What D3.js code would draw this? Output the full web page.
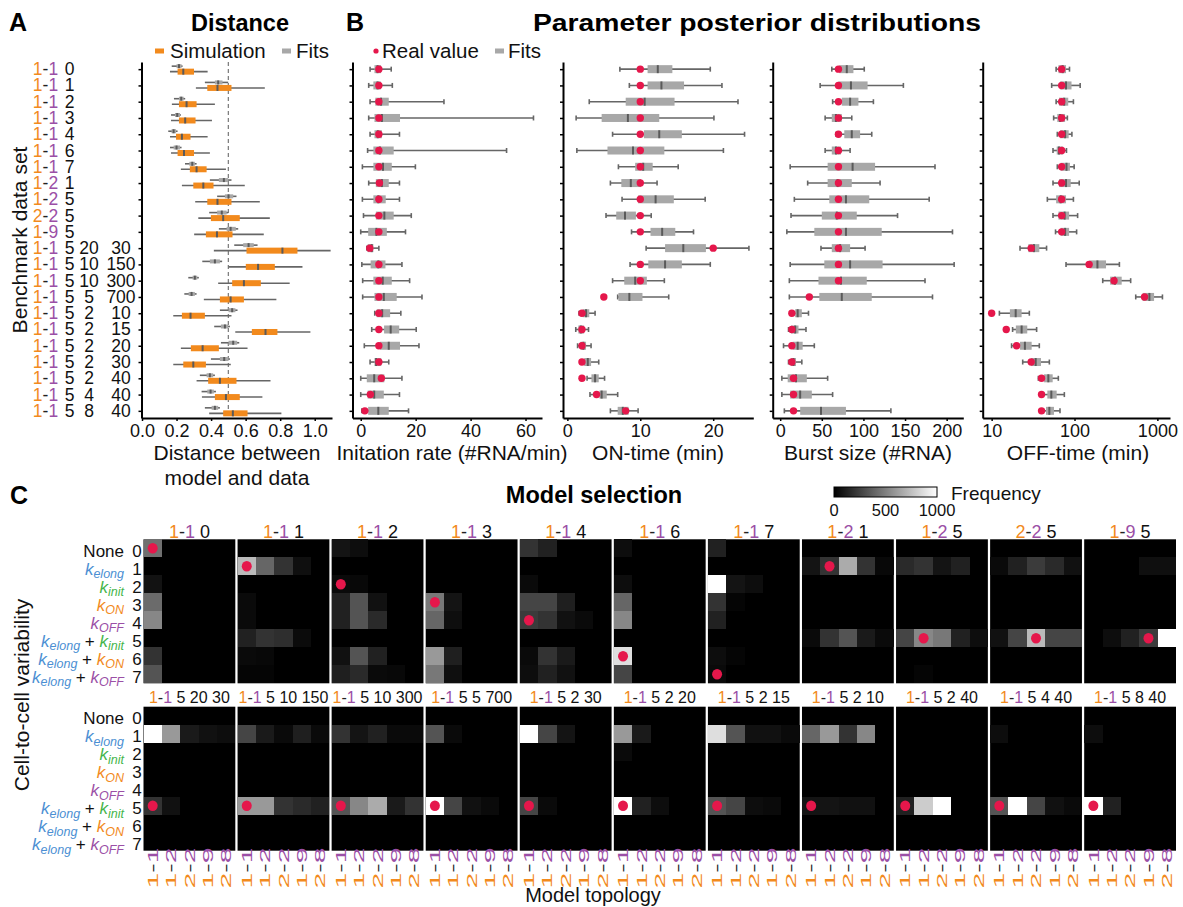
<!DOCTYPE html>
<html>
<head>
<meta charset="utf-8">
<script src="https://cdn.jsdelivr.net/npm/d3@7"></script>
<style>
  body { margin: 0; background: #fff; }
  svg { font-family: "Liberation Sans", Arial, Helvetica, sans-serif; }
  text { white-space: pre; }
</style>
</head>
<body>
<svg id="fig" width="1183" height="907"></svg>
<script>
// ---------------- data ----------------
const benchmarkSets = ["1-1 0","1-1 1","1-1 2","1-1 3","1-1 4","1-1 6","1-1 7","1-2 1","1-2 5","2-2 5","1-9 5",
  "1-1 5 20 30","1-1 5 10 150","1-1 5 10 300","1-1 5 5 700","1-1 5 2 10","1-1 5 2 15","1-1 5 2 20",
  "1-1 5 2 30","1-1 5 2 40","1-1 5 4 40","1-1 5 8 40"];

// box statistics: [lower whisker, Q1, median, Q3, upper whisker]
const simDistance = [
  [0.162,0.206,0.239,0.301,0.380],[0.312,0.378,0.437,0.518,0.711],[0.173,0.214,0.258,0.316,0.422],
  [0.168,0.214,0.250,0.310,0.405],[0.162,0.197,0.231,0.281,0.380],[0.168,0.206,0.243,0.301,0.393],
  [0.225,0.277,0.316,0.374,0.486],[0.231,0.297,0.355,0.414,0.595],[0.308,0.378,0.437,0.518,0.682],
  [0.326,0.399,0.470,0.566,0.740],[0.302,0.370,0.434,0.524,0.705],[0.416,0.605,0.813,0.900,1.092],
  [0.501,0.601,0.672,0.769,0.929],[0.441,0.522,0.590,0.688,0.855],[0.358,0.451,0.513,0.590,0.778],
  [0.181,0.231,0.281,0.364,0.518],[0.540,0.636,0.715,0.784,0.975],[0.225,0.283,0.351,0.445,0.611],
  [0.181,0.239,0.297,0.370,0.514],[0.316,0.383,0.451,0.547,0.744],[0.347,0.422,0.486,0.566,0.697],
  [0.389,0.470,0.526,0.611,0.807]];
const fitDistance = [
  [0.172,0.200,0.214,0.229,0.235],[0.364,0.422,0.441,0.466,0.499],[0.185,0.214,0.227,0.241,0.250],
  [0.168,0.191,0.204,0.220,0.225],[0.152,0.171,0.183,0.197,0.206],[0.162,0.183,0.200,0.220,0.229],
  [0.249,0.274,0.291,0.306,0.316],[0.393,0.445,0.474,0.499,0.518],[0.435,0.480,0.501,0.528,0.547],
  [0.389,0.435,0.462,0.490,0.499],[0.445,0.490,0.513,0.543,0.557],[0.534,0.586,0.617,0.647,0.669],
  [0.349,0.393,0.422,0.451,0.464],[0.268,0.293,0.306,0.320,0.329],[0.245,0.270,0.287,0.306,0.316],
  [0.451,0.501,0.522,0.541,0.553],[0.418,0.457,0.480,0.499,0.509],[0.457,0.501,0.528,0.551,0.563],
  [0.399,0.451,0.476,0.501,0.509],[0.335,0.374,0.393,0.412,0.422],[0.345,0.378,0.397,0.416,0.428],
  [0.364,0.403,0.422,0.441,0.451]];

const initRateFits = [
  [3.4,5.0,6.1,7.4,11.1],[2.9,4.6,6.1,7.3,11.5],[3.4,5.3,7.4,10.2,30.3],[2.9,5.0,7.7,14.3,62.9],
  [3.4,5.0,6.2,7.7,14.1],[2.5,4.6,7.0,12.0,53.1],[0.6,4.6,8.1,11.3,19.9],[2.9,5.5,7.7,10.2,14.1],
  [0.6,4.6,6.4,9.1,14.1],[1.0,5.5,8.6,12.0,18.4],[0.0,2.7,5.7,9.5,16.3],[2.2,2.5,4.0,4.6,6.6],
  [0.4,3.6,6.4,9.0,15.0],[0.7,4.6,8.0,11.3,17.8],[0.7,5.0,8.4,13.1,22.3],[5.1,5.8,7.8,10.7,14.6],
  [4.0,8.5,10.9,14.0,20.2],[1.3,7.0,10.2,14.3,21.2],[3.4,5.0,5.6,7.5,10.2],[0.0,2.2,4.9,8.6,15.0],
  [0.0,2.5,4.9,8.4,14.1],[0.4,2.7,6.4,10.2,17.4]];
const initRateTrue = [6.6,6.6,6.6,6.6,6.6,6.6,6.6,6.8,6.6,6.6,6.6,3.3,6.6,6.6,6.6,6.6,6.6,6.6,6.6,7.5,3.5,1.5];

const onTimeFits = [
  [7.2,11.0,12.4,14.4,19.6],[8.5,11.0,12.9,16.0,21.2],[3.0,8.0,10.6,14.7,23.4],[1.2,4.7,8.3,12.6,20.1],
  [6.2,10.5,12.6,15.7,24.3],[1.3,5.5,9.0,13.3,21.4],[7.0,9.3,10.4,11.7,15.2],[5.9,7.4,8.7,10.1,12.3],
  [7.5,9.7,12.1,14.6,18.9],[5.3,6.7,7.9,9.4,11.5],[8.8,11.4,13.0,14.8,17.3],[10.8,13.4,15.9,19.0,24.9],
  [8.6,11.1,13.4,15.7,19.6],[6.2,7.8,9.3,10.9,13.3],[6.9,7.0,8.5,10.3,13.9],[1.6,2.1,2.56,3.0,3.8],
  [1.15,1.5,1.83,2.3,2.9],[1.4,1.8,2.2,2.56,3.25],[2.1,2.3,2.8,3.25,4.3],[2.7,3.3,3.8,4.3,5.1],
  [3.1,4.4,4.7,5.4,6.9],[5.9,6.9,7.6,8.4,9.7]];
const onTimeTrue = [10,10,10,10,10,10,10,10,10,10,10,20,10,10,5,2,2,2,2,2,4,8];

const burstSizeFits = [
  [62,71,80,88,101],[48,70,85,105,148],[63,74,84,94,112],[54,62,67,74,86],[67,77,86,96,110],
  [54,62,67,73,84],[12,57,87,114,186],[33,57,69,86,120],[17,59,79,107,179],[13,50,68,92,141],
  [8,41,79,122,207],[49,62,72,84,102],[12,53,84,123,209],[11,46,73,104,174],[11,47,74,110,183],
  [13,18,21,26,34],[10,13,18,22,31],[4,15,21,27,41],[10,13,16,19,26],[2,9,19,32,57],
  [2,12,24,38,63],[5,24,49,79,133]];
const burstSizeTrue = [70,70,70,70,70,70,70,70,70,70,70,70,70,70,35,14,14,14,14,16,16,16];

const offTimeFits = [
  [60,64,72,79,87],[53,67,79,92,117],[60,65,75,84,97],[56,62,67,77,82],[62,67,77,85,93],
  [55,61,65,73,80],[62,68,80,88,99],[55,65,79,90,114],[47,60,68,79,97],[55,64,76,86,109],
  [59,68,77,86,106],[22,27.7,32.4,37.6,46],[79,151,189,240,348],[219,269,308,371,476],
  [548,665,801,912,1151],[12.4,16.6,19.5,23,28.5],[17.9,19.6,23,26.9,34.9],[17.4,22,25.2,30.4,37.6],
  [23.7,29.9,34,39.4,49.7],[36.6,42.9,48.3,54.5,63.8],[39,47,52.5,60.9,75.4],[42.1,45.3,49.7,56.5,66.8]];
const offTimeTrue = [70,70,70,70,70,70,70,70,70,70,70,30,150,300,700,10,15,20,30,40,40,40];

// model selection
const topologies = ["1-1","1-2","2-2","1-9","2-8"];
const variabilityTerms = [[],["elong"],["init"],["ON"],["OFF"],["elong","init"],["elong","ON"],["elong","OFF"]];

const selectionSetsTop = ["1-1 0","1-1 1","1-1 2","1-1 3","1-1 4","1-1 6","1-1 7","1-2 1","1-2 5","2-2 5","1-9 5"];
const trueVariabilityTop = [0,1,2,3,4,6,7,1,5,5,5];
const trueTopologyTop = ["1-1","1-1","1-1","1-1","1-1","1-1","1-1","1-2","1-2","2-2","1-9"];
const selectionSetsBottom = ["1-1 5 20 30","1-1 5 10 150","1-1 5 10 300","1-1 5 5 700","1-1 5 2 30",
  "1-1 5 2 20","1-1 5 2 15","1-1 5 2 10","1-1 5 2 40","1-1 5 4 40","1-1 5 8 40"];
const trueVariabilityBottom = [5,5,5,5,5,5,5,5,5,5,5];
const trueTopologyBottom = ["1-1","1-1","1-1","1-1","1-1","1-1","1-1","1-1","1-1","1-1","1-1"];

// selection frequency per panel: 8 variability rows x 5 topology columns
const freqTop = [
  [[440,0,0,0,0],[0,0,0,0,0],[70,0,0,0,0],[420,0,0,0,0],[530,0,0,0,0],[0,0,0,0,0],[200,0,0,0,0],[330,0,0,0,0]],
  [[0,0,0,0,0],[730,400,200,60,0],[0,0,0,0,0],[40,0,0,0,0],[40,0,0,0,0],[130,200,180,45,0],[40,30,0,0,0],[20,20,0,0,0]],
  [[80,50,0,0,0],[0,0,0,0,0],[40,30,0,0,0],[130,330,65,0,0],[130,330,165,0,0],[0,0,0,0,0],[65,330,130,0,0],[120,165,40,30,0]],
  [[0,0,0,0,0],[0,0,0,0,0],[0,0,0,0,0],[470,80,0,0,0],[400,55,0,0,0],[0,0,0,0,0],[600,120,0,0,0],[470,60,0,0,0]],
  [[200,130,0,0,0],[0,0,0,0,0],[40,0,0,0,0],[270,270,120,0,0],[230,200,65,40,0],[0,0,0,0,0],[40,200,100,0,0],[50,130,65,0,0]],
  [[50,0,0,0,0],[0,0,0,0,0],[50,0,0,0,0],[400,0,0,0,0],[530,0,0,0,0],[0,0,0,0,0],[870,0,0,0,0],[270,0,0,0,0]],
  [[130,0,0,0,0],[0,0,0,0,0],[1000,80,50,0,0],[200,20,0,0,0],[130,0,0,0,0],[0,0,0,0,0],[50,20,0,0,0],[40,0,0,0,0]],
  [[0,0,0,0,0],[80,200,670,200,30],[0,0,0,0,0],[0,0,0,0,0],[0,0,0,0,0],[40,200,330,100,40],[0,0,0,0,0],[0,0,0,0,0]],
  [[0,0,0,0,0],[165,200,80,130,0],[0,0,0,0,0],[0,0,0,0,0],[0,0,0,0,0],[270,530,470,130,50],[0,0,0,0,0],[0,20,0,0,0]],
  [[0,0,0,0,0],[40,130,230,165,65],[0,0,0,0,0],[0,0,0,0,0],[0,0,0,0,0],[65,270,730,270,270],[0,0,0,0,0],[0,0,0,0,0]],
  [[0,0,0,0,0],[0,0,0,60,60],[0,0,0,0,0],[0,0,0,0,0],[0,0,0,0,0],[0,50,130,230,1000],[0,0,0,0,0],[0,0,0,0,0]]
];
const freqBottom = [
  [[0,0,0,0,0],[1000,600,100,65,50],[0,0,0,0,0],[0,0,0,0,0],[0,0,0,0,0],[200,65,0,0,0],[0,0,0,0,0],[0,0,0,0,0]],
  [[0,0,0,0,0],[270,100,40,120,40],[0,0,0,0,0],[0,0,0,0,0],[0,0,0,0,0],[600,600,200,165,130],[0,0,0,0,0],[0,0,0,0,0]],
  [[0,0,0,0,0],[200,80,130,40,40],[0,0,0,0,0],[0,0,0,0,0],[0,0,0,0,0],[330,530,670,100,200],[0,0,0,0,0],[0,0,0,0,0]],
  [[0,0,0,0,0],[330,40,0,0,0],[0,0,0,0,0],[0,0,0,0,0],[0,0,0,0,0],[1000,270,65,40,0],[0,0,0,0,0],[0,0,0,0,0]],
  [[0,0,0,0,0],[1000,270,80,0,0],[0,0,0,0,0],[0,0,0,0,0],[0,0,0,0,0],[270,40,0,0,0],[0,0,0,0,0],[0,0,0,0,0]],
  [[0,0,0,0,0],[600,100,0,0,0],[40,0,0,0,0],[0,0,0,0,0],[0,0,0,0,0],[1000,130,50,0,0],[0,0,0,0,0],[0,0,0,0,0]],
  [[0,0,0,0,0],[870,330,65,65,40],[0,0,0,0,0],[0,0,0,0,0],[0,0,0,0,0],[330,270,50,40,0],[0,0,0,0,0],[0,0,0,0,0]],
  [[0,0,0,0,0],[400,600,200,530,0],[0,0,0,0,0],[0,0,0,0,0],[0,0,0,0,0],[80,80,65,65,0],[0,0,0,0,0],[0,0,0,0,0]],
  [[0,0,0,0,0],[0,0,0,0,0],[0,0,0,0,0],[0,0,0,0,0],[0,0,0,0,0],[130,800,1000,0,0],[0,0,0,0,0],[0,0,0,0,0]],
  [[0,0,0,0,0],[50,0,0,0,0],[0,0,0,0,0],[0,0,0,0,0],[0,0,0,0,0],[330,1000,270,65,40],[0,0,0,0,0],[0,0,0,0,0]],
  [[0,0,0,0,0],[50,0,0,0,0],[0,0,0,0,0],[0,0,0,0,0],[0,0,0,0,0],[1000,130,0,0,0],[0,0,0,0,0],[0,0,0,0,0]]
];
const colorbarTicks = [0, 500, 1000];

// ---------------- styles ----------------
const ORANGE = "#f28a1d", PURPLE = "#9b4fa6", BLUE = "#4b8fd3", GREEN = "#45b54a";
const RED = "#e5174b", BOX_GRAY = "#a8a8a8", WHISKER = "#666666", MEDIAN = "#5a5a5a";
const termColor = { elong: BLUE, init: GREEN, ON: ORANGE, OFF: PURPLE };

const svg = d3.select("#fig");

function styleAxis(g, fontSize) {
  g.attr("font-family", null).attr("font-size", null);
  g.select(".domain").attr("stroke", "#000").attr("stroke-width", 2);
  g.selectAll(".tick line").attr("stroke", "#000").attr("stroke-width", 1.5);
  g.selectAll(".tick text").style("font-size", fontSize + "px").attr("fill", "#111");
}

// topology label "a-b" with coloured digits
function topoSpans(text, topo, rest) {
  const [a, b] = topo.split("-");
  text.append("tspan").attr("fill", ORANGE).text(a);
  text.append("tspan").attr("fill", "#222").text("-");
  text.append("tspan").attr("fill", PURPLE).text(b);
  if (rest) text.append("tspan").attr("fill", "#111").text(" " + rest);
}

// ---------------- titles ----------------
function bold(x, y, s, size, anchor, stretchTo) {
  const t = svg.append("text").attr("x", x).attr("y", y).attr("text-anchor", anchor || "start")
    .style("font-weight", "bold").style("font-size", size + "px").attr("fill", "#000").text(s);
  if (stretchTo) t.attr("textLength", stretchTo).attr("lengthAdjust", "spacingAndGlyphs");
}
bold(9, 31, "A", 25);
bold(240, 31, "Distance", 23.5, "middle");
bold(346, 31, "B", 25);
bold(757, 31, "Parameter posterior distributions", 23.5, "middle", 448);
bold(10, 504, "C", 25);
bold(594, 503, "Model selection", 23.5, "middle");

// ---------------- panel A ----------------
const rowY = d3.scalePoint().domain(d3.range(benchmarkSets.length)).range([62, 418]).padding(0.44);

const xDist = d3.scaleLinear().domain([0, 1.1]).range([142, 332]);

// row labels
const labelCols = [69.5, 89, 121];
benchmarkSets.forEach((s, i) => {
  const parts = s.split(" ");
  const t = svg.append("text").attr("x", 45.5).attr("y", rowY(i)).attr("text-anchor", "middle")
    .attr("dominant-baseline", "central").style("font-size", "17.5px");
  topoSpans(t, parts[0]);
  parts.slice(1).forEach((p, j) => {
    svg.append("text").attr("x", labelCols[j]).attr("y", rowY(i)).attr("text-anchor", "middle")
      .attr("dominant-baseline", "central").style("font-size", "17.5px").attr("fill", "#111").text(p);
  });
});

svg.append("text").attr("transform", `translate(27,${(rowY(0) + rowY(21)) / 2}) rotate(-90)`)
  .attr("text-anchor", "middle").style("font-size", "21px").attr("fill", "#111").text("Benchmark data set");

// reference line at 0.5
svg.append("line").attr("x1", xDist(0.5)).attr("x2", xDist(0.5)).attr("y1", 62).attr("y2", 418)
  .attr("stroke", "#808080").attr("stroke-width", 1.3).attr("stroke-dasharray", "4,3");

function drawBoxes(g, x, stats, offset, h, fill, caps) {
  const grp = g.append("g");
  stats.forEach((d, i) => {
    const y = rowY(i) + offset;
    grp.append("line").attr("x1", x(d[0])).attr("x2", x(d[4])).attr("y1", y).attr("y2", y)
      .attr("stroke", WHISKER).attr("stroke-width", 1.6);
    if (caps) {
      [d[0], d[4]].forEach(v => grp.append("line").attr("x1", x(v)).attr("x2", x(v))
        .attr("y1", y - caps / 2).attr("y2", y + caps / 2).attr("stroke", WHISKER).attr("stroke-width", 1.6));
    }
    grp.append("rect").attr("x", x(d[1])).attr("y", y - h / 2).attr("width", x(d[3]) - x(d[1]))
      .attr("height", h).attr("fill", fill);
    grp.append("line").attr("x1", x(d[2])).attr("x2", x(d[2])).attr("y1", y - h / 2).attr("y2", y + h / 2)
      .attr("stroke", MEDIAN).attr("stroke-width", 2);
  });
}

drawBoxes(svg, xDist, fitDistance, -3, 4, BOX_GRAY, 0);
drawBoxes(svg, xDist, simDistance, 2.5, 6, ORANGE, 0);

svg.append("g").attr("transform", "translate(141.5,0)")
  .call(d3.axisLeft(rowY).tickSize(3).tickSizeOuter(0).tickFormat(""))
  .call(g => styleAxis(g, 18));
svg.append("g").attr("transform", "translate(0,418)")
  .call(d3.axisBottom(xDist).tickValues([0, 0.2, 0.4, 0.6, 0.8, 1.0]).tickFormat(d3.format(".1f"))
    .tickSize(3).tickPadding(3).tickSizeOuter(0))
  .call(g => styleAxis(g, 18));

svg.append("text").attr("x", 237).attr("y", 460).attr("text-anchor", "middle").style("font-size", "21px")
  .attr("fill", "#111").text("Distance between");
svg.append("text").attr("x", 237).attr("y", 485).attr("text-anchor", "middle").style("font-size", "21px")
  .attr("fill", "#111").text("model and data");

// legend A
svg.append("rect").attr("x", 155).attr("y", 48.5).attr("width", 9).attr("height", 5).attr("fill", ORANGE);
svg.append("text").attr("x", 170).attr("y", 58).style("font-size", "20.5px").attr("fill", "#111").text("Simulation");
svg.append("rect").attr("x", 282).attr("y", 48.5).attr("width", 9).attr("height", 5).attr("fill", BOX_GRAY);
svg.append("text").attr("x", 296).attr("y", 58).style("font-size", "20.5px").attr("fill", "#111").text("Fits");

// ---------------- panel B ----------------
const paramPanels = [
  { fits: initRateFits, truth: initRateTrue, x: d3.scaleLinear().domain([-3, 66]).range([352.5, 542]),
    ticks: [0, 20, 40, 60], title: "Initation rate (#RNA/min)", tx: 452 },
  { fits: onTimeFits, truth: onTimeTrue, x: d3.scaleLinear().domain([-0.6, 25.5]).range([563, 753.3]),
    ticks: [0, 10, 20], title: "ON-time (min)", tx: 658 },
  { fits: burstSizeFits, truth: burstSizeTrue, x: d3.scaleLinear().domain([-9, 220]).range([772.7, 963.3]),
    ticks: [0, 50, 100, 150, 200], title: "Burst size (#RNA)", tx: 868 },
  { fits: offTimeFits, truth: offTimeTrue, x: d3.scaleLog().domain([7.8, 1420]).range([982.7, 1170]),
    ticks: [10, 100, 1000], title: "OFF-time (min)", tx: 1078 }
];

paramPanels.forEach(p => {
  drawBoxes(svg, p.x, p.fits, 0, 8, BOX_GRAY, 5);
  svg.append("g").selectAll("circle").data(p.truth).join("circle")
    .attr("cx", d => p.x(d)).attr("cy", (d, i) => rowY(i)).attr("r", 3.7).attr("fill", RED);
  const x0 = p.x.range()[0];
  svg.append("g").attr("transform", `translate(${x0},0)`)
    .call(d3.axisLeft(rowY).tickSize(3).tickSizeOuter(0).tickFormat(""))
    .call(g => styleAxis(g, 18));
  svg.append("g").attr("transform", "translate(0,418)")
    .call(d3.axisBottom(p.x).tickValues(p.ticks).tickFormat(d3.format("d")).tickSize(3).tickPadding(3).tickSizeOuter(0))
    .call(g => styleAxis(g, 18));
  svg.append("text").attr("x", p.tx).attr("y", 460).attr("text-anchor", "middle").style("font-size", "21px")
    .attr("fill", "#111").text(p.title);
});

// legend B
svg.append("circle").attr("cx", 376).attr("cy", 51).attr("r", 2.6).attr("fill", RED);
svg.append("text").attr("x", 382).attr("y", 58).style("font-size", "20.5px").attr("fill", "#111").text("Real value");
svg.append("rect").attr("x", 495).attr("y", 48.5).attr("width", 9).attr("height", 5).attr("fill", BOX_GRAY);
svg.append("text").attr("x", 508).attr("y", 58).style("font-size", "20.5px").attr("fill", "#111").text("Fits");

// ---------------- panel C ----------------
const panelX = d3.scaleBand().domain(d3.range(11)).range([143.5, 1176]).paddingInner(0.024);
const colX = d3.scaleBand().domain(topologies).range([0, panelX.bandwidth()]);
const heat = d3.scaleLinear().domain([0, 1000]).range(["#000000", "#ffffff"]).clamp(true);

function variabilityLabels(top) {
  const rowB = d3.scaleBand().domain(d3.range(8)).range([top, top + 144]);
  variabilityTerms.forEach((terms, r) => {
    const y = rowB(r) + rowB.bandwidth() / 2 + 8.5;
    const t = svg.append("text").attr("x", 124).attr("y", y).attr("text-anchor", "end").style("font-size", "17px");
    if (!terms.length) t.append("tspan").attr("fill", "#111").text("None");
    terms.forEach((term, k) => {
      if (k > 0) t.append("tspan").attr("fill", "#111").attr("dy", -3.5).text(" + ");
      t.append("tspan").attr("fill", termColor[term]).style("font-style", "italic").text("k");
      t.append("tspan").attr("fill", termColor[term]).style("font-style", "italic")
        .style("font-size", "12.5px").attr("dy", 3.5).text(term);
    });
    svg.append("text").attr("x", 137).attr("y", y).attr("text-anchor", "middle").style("font-size", "17px")
      .attr("fill", "#111").text(r);
  });
}

function heatRow(top, sets, freqs, trueVar, trueTopo, titleSize, titleY) {
  const rowB = d3.scaleBand().domain(d3.range(8)).range([0, 144]);
  sets.forEach((s, p) => {
    const g = svg.append("g").attr("transform", `translate(${panelX(p)},${top})`);
    g.append("rect").attr("width", panelX.bandwidth()).attr("height", 144).attr("fill", heat(0));
    const cells = [];
    freqs[p].forEach((row, r) => row.forEach((v, c) => cells.push({ r, c: topologies[c], v })));
    g.selectAll("rect.cell").data(cells.filter(d => d.v > 0)).join("rect").attr("class", "cell")
      .attr("x", d => colX(d.c)).attr("y", d => rowB(d.r))
      .attr("width", colX.bandwidth()).attr("height", rowB.bandwidth())
      .attr("shape-rendering", "crispEdges")
      .attr("fill", d => heat(d.v));
    g.append("ellipse").attr("cx", colX(trueTopo[p]) + colX.bandwidth() / 2)
      .attr("cy", rowB(trueVar[p]) + rowB.bandwidth() / 2).attr("rx", 5).attr("ry", 5.3).attr("fill", RED);
    const parts = s.split(" ");
    const t = svg.append("text").attr("x", panelX(p) + panelX.bandwidth() / 2).attr("y", titleY)
      .attr("text-anchor", "middle").style("font-size", titleSize + "px");
    topoSpans(t, parts[0], parts.slice(1).join(" "));
  });
}

heatRow(539.3, selectionSetsTop, freqTop, trueVariabilityTop, trueTopologyTop, 18, 538);
heatRow(706.7, selectionSetsBottom, freqBottom, trueVariabilityBottom, trueTopologyBottom, 16, 703);
variabilityLabels(539.3);
variabilityLabels(706.7);

// topology tick labels under the lower row
d3.range(11).forEach(p => {
  topologies.forEach(topo => {
    const cx = panelX(p) + colX(topo) + colX.bandwidth() / 2;
    const t = svg.append("text").attr("transform", `translate(${cx},888.5) rotate(-90) scale(1.95,1)`)
      .attr("dominant-baseline", "central").style("font-size", "14.5px");
    topoSpans(t, topo);
  });
});

svg.append("text").attr("x", 593).attr("y", 902).attr("text-anchor", "middle").style("font-size", "20px")
  .attr("fill", "#111").text("Model topology");
svg.append("text").attr("transform", "translate(29,695) rotate(-90)").attr("text-anchor", "middle")
  .style("font-size", "21px").attr("fill", "#111").text("Cell-to-cell variability");

// colour bar
const defs = svg.append("defs");
const grad = defs.append("linearGradient").attr("id", "freqGrad");
grad.selectAll("stop").data(colorbarTicks).join("stop")
  .attr("offset", d => d / 1000).attr("stop-color", d => heat(d));
const cbX = d3.scaleLinear().domain([0, 1000]).range([834, 937]);
svg.append("rect").attr("x", cbX(0)).attr("y", 487).attr("width", cbX(1000) - cbX(0)).attr("height", 10)
  .attr("fill", "url(#freqGrad)").attr("stroke", "#000").attr("stroke-width", 1);
svg.selectAll(".cbtick").data(colorbarTicks).join("text").attr("class", "cbtick")
  .attr("x", d => cbX(d)).attr("y", 516).attr("text-anchor", "middle").style("font-size", "16.5px")
  .attr("fill", "#111").text(d => d);
svg.append("text").attr("x", 951).attr("y", 500).style("font-size", "19px").attr("fill", "#111").text("Frequency");
</script>
</body>
</html>
